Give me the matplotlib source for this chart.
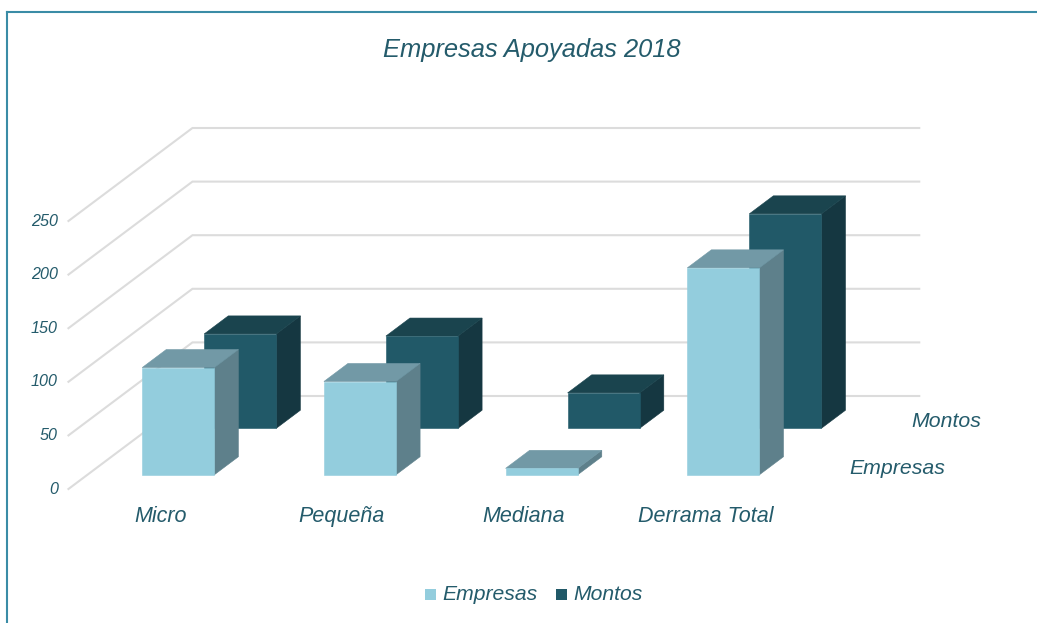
import matplotlib
matplotlib.use("Agg")
import matplotlib.pyplot as plt
from matplotlib.patches import Polygon, Rectangle
from matplotlib.lines import Line2D

# ---- data ----
categories = ["Micro", "Pequeña", "Mediana", "Derrama Total"]
empresas = [100, 87, 6, 193]
montos = [88, 86, 33, 200]
value_ticks = [0, 50, 100, 150, 200, 250]
series_names = ["Empresas", "Montos"]
title = "Empresas Apoyadas 2018"

# ---- style / geometry ----
W, H = 1037, 623
PX_CAT, PX_VAL = 181.7, 1.072          # pixels per category, per value unit
X0_PX, Y0_PX = 159.3, 489.0            # pixel of category 0, value 0, front of floor
DEPTH_DX, DEPTH_DY = 124.0, 93.0       # pixel shift from front to back of floor
ROW_CENTER = [0.25, 0.75]
BAR_DEPTH = 0.194
BAR_WIDTH = 0.397
TXT = "#245b6b"
GRID = "#dcdcdc"
BORDER = "#3a8ca6"
FONT = dict(family="Liberation Sans", style="italic", color=TXT, zorder=6)
FACES = [
    dict(front="#93cddd", top="#7299a6", side="#5e808b"),
    dict(front="#215968", top="#1a444e", side="#153741"),
]

fig = plt.figure(figsize=(W / 100, H / 100), dpi=100, facecolor="white")
ax = fig.add_axes([0, 0, 1, 1])
ax.set_xlim(-X0_PX / PX_CAT, (W - X0_PX) / PX_CAT)
ax.set_ylim((Y0_PX - H) / PX_VAL, Y0_PX / PX_VAL)
ax.axis("off")


def proj(c, d, v):
    """Oblique projection of category, floor depth (0-1) and value into axes data."""
    return c + d * DEPTH_DX / PX_CAT, v + d * DEPTH_DY / PX_VAL


def px(x_px, y_px):
    return (x_px - X0_PX) / PX_CAT, (Y0_PX - y_px) / PX_VAL


# chart border: only the left and top sides are in frame
for a, b in [((7.0, 623), (7.0, 12.0)), ((7.0, 12.0), (1037, 12.0))]:
    xa, ya = px(*a)
    xb, yb = px(*b)
    ax.add_line(Line2D([xa, xb], [ya, yb], color=BORDER, lw=1.5, zorder=1,
                       clip_on=False, solid_capstyle="projecting"))

# gridlines on the side wall and the back wall
c_left, c_right = -0.5, len(categories) - 0.5
for v in value_ticks:
    pts = [proj(c_left, 0, v), proj(c_left, 1, v), proj(c_right, 1, v)]
    ax.plot([p[0] for p in pts], [p[1] for p in pts], color=GRID, lw=1.5,
            solid_joinstyle="miter", zorder=2)
    x, _ = px(58, 0)
    _, y = px(0, Y0_PX - PX_VAL * v)
    ax.text(x, y, str(v), ha="right", va="center", fontsize=11.6, **FONT)


def draw_bar(c, row, value, faces, z):
    d0 = ROW_CENTER[row] - BAR_DEPTH / 2
    d1 = ROW_CENTER[row] + BAR_DEPTH / 2
    l, r = c - BAR_WIDTH / 2, c + BAR_WIDTH / 2
    front = [proj(l, d0, 0), proj(r, d0, 0), proj(r, d0, value), proj(l, d0, value)]
    side = [proj(r, d0, 0), proj(r, d1, 0), proj(r, d1, value), proj(r, d0, value)]
    top = [proj(l, d0, value), proj(r, d0, value), proj(r, d1, value), proj(l, d1, value)]
    for pts, col in [(side, faces["side"]), (top, faces["top"]), (front, faces["front"])]:
        ax.add_patch(Polygon(pts, closed=True, facecolor=col, edgecolor=col, lw=0.4, zorder=z))


for row in (1, 0):
    vals = montos if row == 1 else empresas
    for i, v in enumerate(vals):
        draw_bar(i, row, v, FACES[row], 3 + (1 - row))

# category labels
_, y_cat = px(0, 522)
for i, name in enumerate(categories):
    ax.text(i + 1 / PX_CAT, y_cat, name, ha="center", va="baseline", fontsize=15.5, **FONT)

# series labels at the end of the floor
for row, name in enumerate(series_names):
    x, y = proj(c_right, ROW_CENTER[row], 0)
    ax.text(x + 23 / PX_CAT, y - 2.5 / PX_VAL, name, ha="left", va="center", fontsize=15.3, **FONT)

# title
x, y = px(531.5, 50)
ax.text(x, y, title, ha="center", va="center", fontsize=18.4, **FONT)

# legend
for box_px, text_px, name, faces in [(425, 442, series_names[0], FACES[0]), (556, 573, series_names[1], FACES[1])]:
    x, y = px(box_px, 600)
    ax.add_patch(Rectangle((x, y), 11 / PX_CAT, 11 / PX_VAL, facecolor=faces["front"], edgecolor="none", zorder=6))
    x, y = px(text_px, 594.5)
    ax.text(x, y, name, ha="left", va="center", fontsize=15.2, **FONT)

fig.savefig("out.png", dpi=100, facecolor="white")
